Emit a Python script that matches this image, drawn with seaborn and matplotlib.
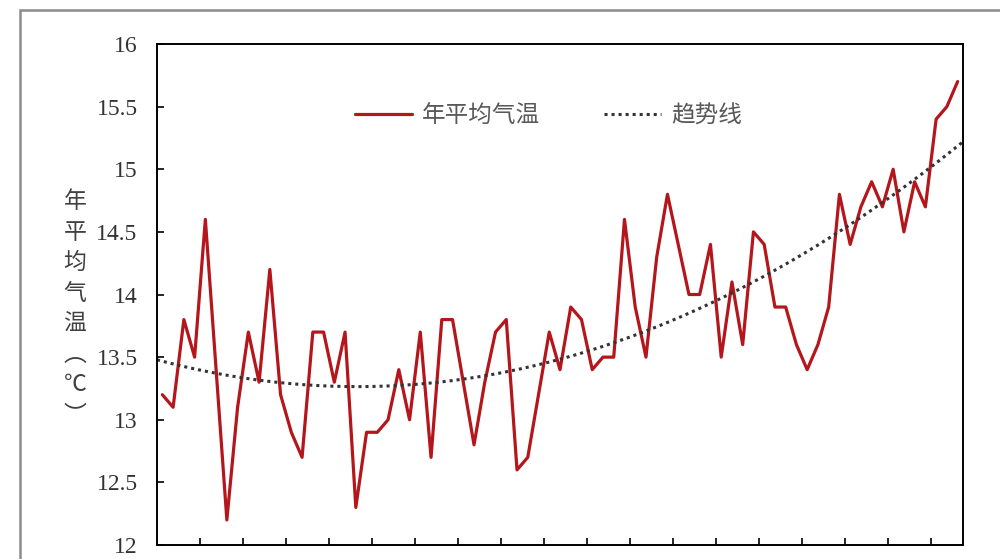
import numpy as np
import pandas as pd
import matplotlib
matplotlib.use("Agg")
import matplotlib.pyplot as plt
import matplotlib.patches as mpatches
import seaborn as sns

# ---- data ----
years = list(range(1950, 2025))
temps = [13.2, 13.1, 13.8, 13.5, 14.6, 13.4, 12.2, 13.1, 13.7, 13.3,
         14.2, 13.2, 12.9, 12.7, 13.7, 13.7, 13.3, 13.7, 12.3, 12.9,
         12.9, 13.0, 13.4, 13.0, 13.7, 12.7, 13.8, 13.8, 13.3, 12.8,
         13.3, 13.7, 13.8, 12.6, 12.7, 13.2, 13.7, 13.4, 13.9, 13.8,
         13.4, 13.5, 13.5, 14.6, 13.9, 13.5, 14.3, 14.8, 14.4, 14.0,
         14.0, 14.4, 13.5, 14.1, 13.6, 14.5, 14.4, 13.9, 13.9, 13.6,
         13.4, 13.6, 13.9, 14.8, 14.4, 14.7, 14.9, 14.7, 15.0, 14.5,
         14.9, 14.7, 15.4, 15.5, 15.7]
yticks = [12, 12.5, 13, 13.5, 14, 14.5, 15, 15.5, 16]
ytick_labels = ["12", "12.5", "13", "13.5", "14", "14.5", "15", "15.5", "16"]
series_label = "年平均气温"
trend_label = "趋势线"
ylabel_chars = ["年", "平", "均", "气", "温", "︵", "℃", "︶"]

df = pd.DataFrame({"year": years, "temp": temps})

sns.set_style("ticks")
plt.rcParams["font.family"] = ["Liberation Serif", "Noto Sans CJK SC", "DejaVu Sans"]

fig = plt.figure(figsize=(10, 5.59), dpi=100)
ax = fig.add_axes([0.157, 0.025, 0.806, 0.8963])

line_color = "#B5161C"
sns.lineplot(data=df, x="year", y="temp", ax=ax, color=line_color,
             linewidth=2.3, label=series_label)

# quadratic trend line fitted to the data (like a spreadsheet trendline)
coef = np.polyfit(df["year"] - years[0], df["temp"], 2)
xs = np.linspace(years[0] - 0.5, years[-1] + 0.5, 300)
trend = pd.DataFrame({"year": xs, "trend": np.polyval(coef, xs - years[0])})
sns.lineplot(data=trend, x="year", y="trend", ax=ax, color="#333333",
             linewidth=2.2, linestyle=(0, (1, 1.3)), label=trend_label)

ax.set_xlim(years[0] - 0.5, years[-1] + 0.5)
ax.set_ylim(12, 16)
ax.set_yticks(yticks)
ax.set_yticklabels(ytick_labels)
ax.set_xticks([years[0] - 0.5 + 4 * k for k in range(1, 19)])
ax.set_xticklabels([])
ax.set_xlabel("")
ax.set_ylabel("")

for s in ax.spines.values():
    s.set_color("#000000")
    s.set_linewidth(1.4)
ax.tick_params(axis="y", direction="in", length=5, width=1.2, pad=14,
               labelsize=17, labelcolor="#333333", color="#000000")
ax.tick_params(axis="x", direction="in", length=5, width=1.2, color="#000000")

leg = ax.legend(loc="center", bbox_to_anchor=(0.486, 0.856), ncol=2,
                frameon=False, handlelength=2.4, handletextpad=0.45,
                columnspacing=2.7,
                prop={"family": ["Noto Sans CJK SC"], "size": 17})
for t in leg.get_texts():
    t.set_color("#595959")

# stacked vertical y label
fig.text(0.075, 1 - 190 / 559, "\n".join(ylabel_chars), ha="center", va="top",
         fontsize=16.5, color="#404040", linespacing=1.42,
         family=["Noto Sans CJK SC", "DejaVu Sans"])

# outer frame of the picture
frame = mpatches.Rectangle((0.02, -0.2), 1.2, 0.2 + (1 - 10 / 559),
                           transform=fig.transFigure, fill=False,
                           edgecolor="#8c8c8c", linewidth=1.8, clip_on=False)
fig.patches.append(frame)

fig.savefig("out.png", dpi=100)
